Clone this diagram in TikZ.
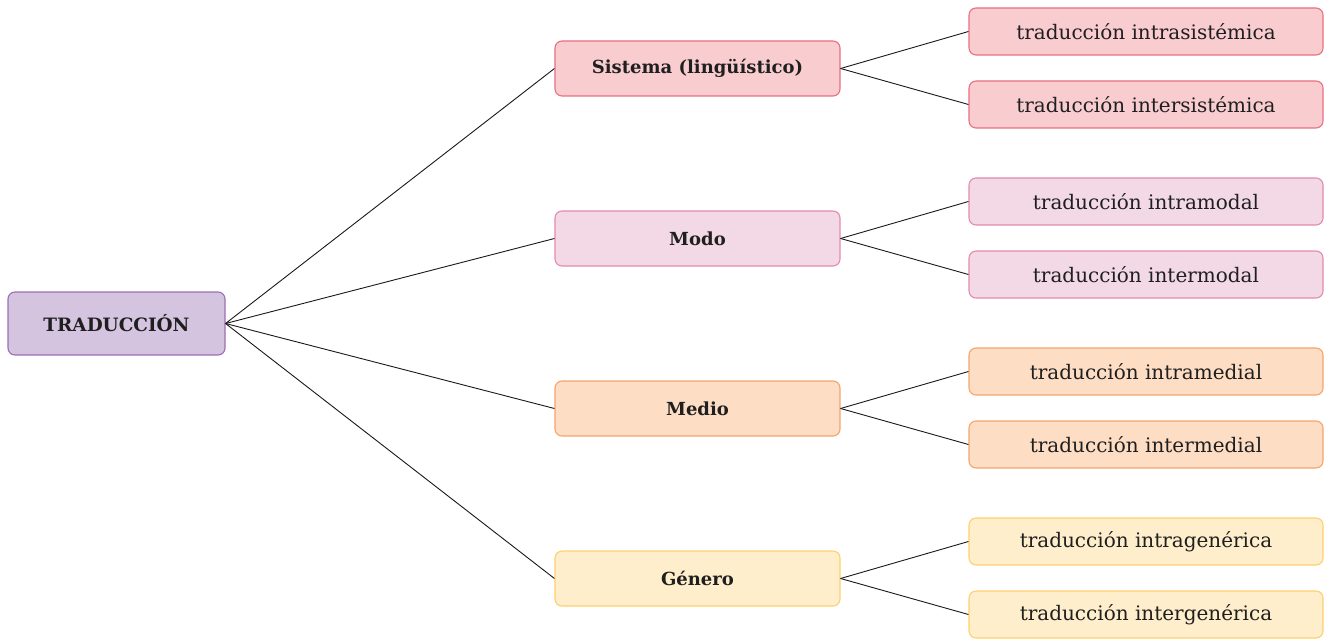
\documentclass[tikz,border=0pt]{standalone}
\usepackage{fontspec}
\setmainfont{DejaVu Serif}
\begin{document}
\begin{tikzpicture}[x=1pt,y=-1pt,
  box/.style={draw, line width=1.1pt, rounded corners=7pt, inner sep=0pt, anchor=center, text=black!88},
  rootbox/.style={box, minimum width=217pt, minimum height=63pt, font=\fontsize{18.4}{22}\selectfont\bfseries},
  midbox/.style={box, minimum width=285pt, minimum height=55pt, font=\fontsize{18}{22}\selectfont\bfseries},
  leafbox/.style={box, minimum width=354pt, minimum height=47pt, font=\fontsize{20}{24}\selectfont},
  link/.style={draw=black!90, line width=0.9pt}]
\definecolor{rootfill}{HTML}{D5C4DF}\definecolor{rootline}{HTML}{9B6FB0}
\definecolor{sisfill}{HTML}{F9CCD0}\definecolor{sisline}{HTML}{E8707F}
\definecolor{modfill}{HTML}{F2D9E5}\definecolor{modline}{HTML}{E48AAE}
\definecolor{medfill}{HTML}{FDDDC4}\definecolor{medline}{HTML}{F4A46E}
\definecolor{genfill}{HTML}{FEEECB}\definecolor{genline}{HTML}{FDD06E}
\useasboundingbox (0,0) rectangle (1324,639);

\node[rootbox, fill=rootfill, draw=rootline] (root) at (116.5,323.5) {TRADUCCIÓN};

\node[midbox, fill=sisfill, draw=sisline] (sis) at (697.5,68.5) {Sistema (lingüístico)};
\node[midbox, fill=modfill, draw=modline] (mod) at (697.5,238.5) {Modo};
\node[midbox, fill=medfill, draw=medline] (med) at (697.5,408.5) {Medio};
\node[midbox, fill=genfill, draw=genline] (gen) at (697.5,578.5) {Género};

\node[leafbox, fill=sisfill, draw=sisline] (sisA) at (1146,31.5) {traducción intrasistémica};
\node[leafbox, fill=sisfill, draw=sisline] (sisB) at (1146,104.5) {traducción intersistémica};
\node[leafbox, fill=modfill, draw=modline] (modA) at (1146,201.5) {traducción intramodal};
\node[leafbox, fill=modfill, draw=modline] (modB) at (1146,274.5) {traducción intermodal};
\node[leafbox, fill=medfill, draw=medline] (medA) at (1146,371.5) {traducción intramedial};
\node[leafbox, fill=medfill, draw=medline] (medB) at (1146,444.5) {traducción intermedial};
\node[leafbox, fill=genfill, draw=genline] (genA) at (1146,541.5) {traducción intragenérica};
\node[leafbox, fill=genfill, draw=genline] (genB) at (1146,614.5) {traducción intergenérica};

\foreach \m in {sis,mod,med,gen}{
  \draw[link] (root.east) -- (\m.west);
  \draw[link] (\m.east) -- (\m A.west);
  \draw[link] (\m.east) -- (\m B.west);
}
\end{tikzpicture}
\end{document}
